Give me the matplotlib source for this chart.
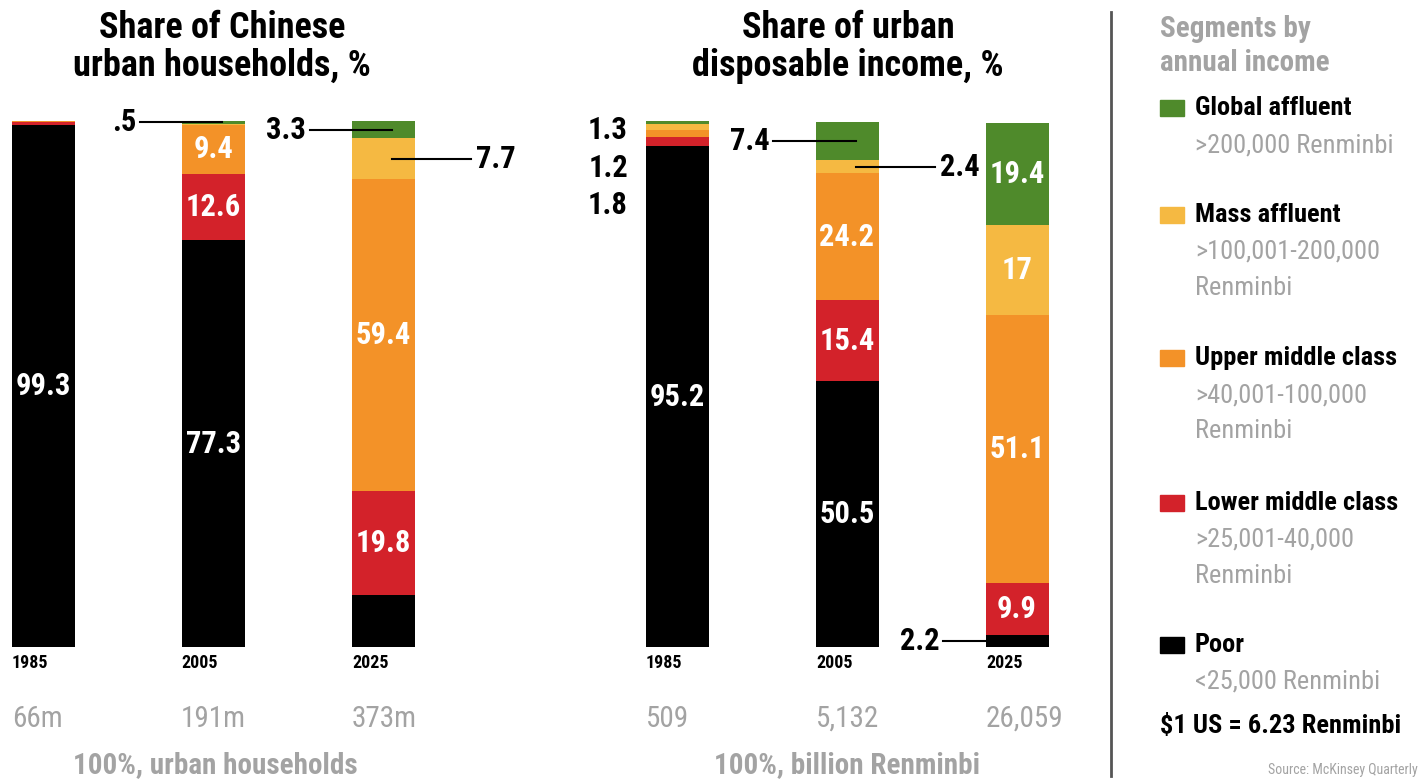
import matplotlib
matplotlib.use("Agg")
import matplotlib.pyplot as plt
from matplotlib import font_manager as fm
import numpy as np

# pick a condensed face if one is installed
_names = {f.name for f in fm.fontManager.ttflist}
FAM = "DejaVu Sans"
for cand in ["Roboto Condensed", "Liberation Sans Narrow", "Open Sans Condensed"]:
    if cand in _names:
        FAM = cand
        break
plt.rcParams["font.family"] = [FAM, "DejaVu Sans"]
plt.rcParams["font.stretch"] = "condensed"

# ---- data ----
years = ["1985", "2005", "2025"]
segments = ["Global affluent", "Mass affluent", "Upper middle class",
            "Lower middle class", "Poor"]
ranges = [">200,000 Renminbi", ">100,001-200,000\nRenminbi",
          ">40,001-100,000\nRenminbi", ">25,001-40,000\nRenminbi",
          "<25,000 Renminbi"]
colors = ["#4f8a2b", "#f5b942", "#f39228", "#d3222a", "#000000"]

# shares, bottom segment first: poor, lower middle, upper middle, mass affluent, global affluent
hh_poor = [99.3, 77.3, 9.8]
hh_lower = [0.5, 12.6, 19.8]
hh_upper = [0.2, 9.4, 59.4]
hh_mass = [0.0, 0.2, 7.7]
hh_global = [0.0, 0.5, 3.3]
hh_totals = ["66m", "191m", "373m"]

inc_poor = [95.2, 50.5, 2.2]
inc_lower = [1.8, 15.4, 9.9]
inc_upper = [1.2, 24.2, 51.1]
inc_mass = [1.3, 2.4, 17.0]
inc_global = [0.5, 7.4, 19.4]
inc_totals = ["509", "5,132", "26,059"]

W, H = 1420, 780
fig = plt.figure(figsize=(W / 100, H / 100), dpi=100)
GREY = "#a3a3a3"


def fx(x):
    return x / W


def fy(y):
    return 1 - y / H


def fmt(v):
    s = f"{v:g}"
    return s[1:] if s.startswith("0.") else s


BAR_W = 63 / 170


def panel(left_px, right_px, first_center, stack, inside, callouts):
    ax = fig.add_axes([fx(left_px), fy(647), fx(right_px - left_px), (647 - 121) / H])
    ax.set_xlim((left_px - first_center) / 170, (right_px - first_center) / 170)
    ax.set_ylim(0, 100)
    ax.axis("off")
    x = np.arange(len(years))
    bottom = np.zeros(len(years))
    seg_cols = colors[::-1]
    mids = []
    for vals, c in zip(stack, seg_cols):
        vals = np.array(vals)
        ax.bar(x, vals, BAR_W, bottom=bottom, color=c, align="center", linewidth=0)
        mids.append(bottom + vals / 2)
        bottom = bottom + vals
    # labels inside bars
    for si, bi in inside:
        ax.text(x[bi], mids[si][bi], fmt(stack[si][bi]), color="white",
                fontsize=22, fontweight="bold", ha="center", va="center")
    # callouts with leader lines
    for si, bi, side in callouts:
        ym = mids[si][bi]
        if side == "left":
            x0, x1 = x[bi] + 0.05, x[bi] - BAR_W / 2 - 0.25
            ax.plot([x0, x1], [ym, ym], color="black", lw=1.5, clip_on=False)
            ax.text(x1 - 0.02, ym, fmt(stack[si][bi]), ha="right", va="center",
                    fontsize=22, fontweight="bold", clip_on=False)
        else:
            x0, x1 = x[bi] + 0.05, x[bi] + BAR_W / 2 + 0.33
            ax.plot([x0, x1], [ym, ym], color="black", lw=1.5, clip_on=False)
            ax.text(x1 + 0.03, ym, fmt(stack[si][bi]), ha="left", va="center",
                    fontsize=22, fontweight="bold", clip_on=False)
    return ax, x


hh_stack = [hh_poor, hh_lower, hh_upper, hh_mass, hh_global]
inc_stack = [inc_poor, inc_lower, inc_upper, inc_mass, inc_global]

ax1, x1 = panel(0, 430, 43.5, hh_stack,
                inside=[(0, 0), (0, 1), (1, 1), (2, 1), (1, 2), (2, 2)],
                callouts=[(4, 1, "left"), (4, 2, "left"), (3, 2, "right")])
ax2, x2 = panel(600, 1090, 677, inc_stack,
                inside=[(0, 0), (0, 1), (1, 1), (2, 1), (1, 2), (2, 2), (3, 2), (4, 2)],
                callouts=[(4, 1, "left"), (3, 1, "right"), (0, 2, "left")])

# small 1985 income segments listed beside the bar
for v, yy in zip([inc_mass[0], inc_upper[0], inc_lower[0]], [130, 168, 205]):
    fig.text(fx(628), fy(yy), fmt(v), ha="right", va="center", fontsize=22,
             fontweight="bold")

# years and totals under bars
for lefts, totals in [([12, 181, 352], hh_totals), ([646, 816, 986], inc_totals)]:
    for lx, yr, tot in zip(lefts, years, totals):
        fig.text(fx(lx), fy(663), yr, ha="left", va="center", fontsize=13,
                 fontweight="bold")
        fig.text(fx(lx), fy(719), tot, ha="left", va="center", fontsize=21,
                 color=GREY)

# panel titles and footers
fig.text(fx(222), fy(47), "Share of Chinese\nurban households, %", ha="center",
         va="center", fontsize=26, fontweight="bold", linespacing=1.05)
fig.text(fx(848), fy(47), "Share of urban\ndisposable income, %", ha="center",
         va="center", fontsize=26, fontweight="bold", linespacing=1.05)
fig.text(fx(215), fy(765), "100%, urban households", ha="center", va="center",
         fontsize=21, fontweight="bold", color=GREY)
fig.text(fx(847), fy(765), "100%, billion Renminbi", ha="center", va="center",
         fontsize=21, fontweight="bold", color=GREY)

# divider
fig.add_artist(plt.Line2D([fx(1111), fx(1111)], [fy(12), fy(776)],
                          color="#555555", lw=2))

# legend column
fig.text(fx(1160), fy(46), "Segments by\nannual income", ha="left", va="center",
         fontsize=21, fontweight="bold", color=GREY, linespacing=1.3)
leg_y = [108, 215, 358, 503, 645]
for name, rng, c, yy in zip(segments, ranges, colors, leg_y):
    fig.patches.append(plt.Rectangle((fx(1160), fy(yy + 8)), fx(24), 16 / H,
                                     color=c, transform=fig.transFigure,
                                     figure=fig))
    fig.text(fx(1195), fy(yy), name, ha="left", va="center", fontsize=19,
             fontweight="bold")
    fig.text(fx(1195), fy(yy + 25), rng, ha="left", va="top", fontsize=19,
             color=GREY, linespacing=1.65)

fig.text(fx(1160), fy(726), "$1 US = 6.23 Renminbi", ha="left", va="center",
         fontsize=19, fontweight="bold")
fig.text(fx(1418), fy(770), "Source: McKinsey Quarterly", ha="right",
         va="center", fontsize=10, color=GREY)

fig.savefig("out.png", dpi=100)
